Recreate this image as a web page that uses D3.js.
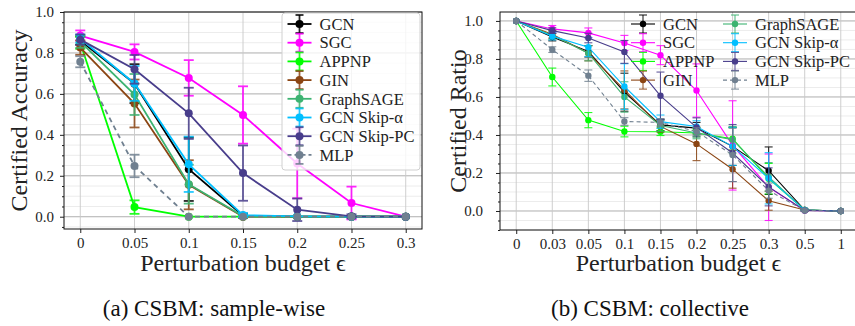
<!DOCTYPE html>
<html>
<head>
<meta charset="utf-8">
<script src="https://cdn.jsdelivr.net/npm/d3@7"></script>
<style>
  body { margin: 0; background: #fff; }
</style>
</head>
<body>
<svg width="855" height="326"></svg>
<script>
// series names and colours
const methods = ["GCN", "SGC", "APPNP", "GIN", "GraphSAGE", "GCN Skip-\u03b1", "GCN Skip-PC", "MLP"];
const colors = ["#000000", "#ff00ff", "#00ff00", "#8b4513", "#3cb371", "#00bfff", "#483d8b", "#708090"];

// (a) sample-wise
const budgetsA = [0, 0.05, 0.1, 0.15, 0.2, 0.25, 0.3];
const budgetLabelsA = ["0", "0.05", "0.1", "0.15", "0.2", "0.25", "0.3"];
const meanA = [
  [0.86, 0.65, 0.232, 0.005, 0, 0, 0],        // GCN
  [0.885, 0.805, 0.678, 0.497, 0.26, 0.067, 0], // SGC
  [0.85, 0.047, 0, 0, 0, 0, 0],              // APPNP
  [0.826, 0.553, 0.156, 0, 0, 0, 0],          // GIN
  [0.855, 0.597, 0.159, 0.003, 0, 0, 0],      // GraphSAGE
  [0.87, 0.651, 0.256, 0.008, 0.002, 0, 0],   // Skip-alpha
  [0.865, 0.72, 0.505, 0.213, 0.034, 0.002, 0], // Skip-PC
  [0.757, 0.248, 0, 0, 0, 0, 0]               // MLP
];
const errA = [
  [0.02, 0.095, 0.155, 0.01, 0, 0, 0],
  [0.025, 0.037, 0.087, 0.14, 0.17, 0.08, 0],
  [0.03, 0.033, 0, 0, 0, 0, 0],
  [0.035, 0.117, 0.12, 0, 0, 0, 0],
  [0.03, 0.1, 0.095, 0.005, 0, 0, 0],
  [0.02, 0.085, 0.135, 0.01, 0, 0, 0],
  [0.025, 0.07, 0.125, 0.135, 0.055, 0.01, 0],
  [0.027, 0.055, 0, 0, 0, 0, 0]
];

// (b) collective
const budgetLabelsB = ["0", "0.03", "0.05", "0.1", "0.15", "0.2", "0.25", "0.3", "0.5", "1"];
const meanB = [
  [1, 0.915, 0.84, 0.625, 0.453, 0.436, 0.34, 0.212, 0.005, 0],
  [1, 0.958, 0.937, 0.884, 0.82, 0.634, 0.345, 0.125, 0.003, 0],
  [1, 0.705, 0.478, 0.418, 0.417, 0.41, 0.38, 0.17, 0.005, 0],
  [1, 0.93, 0.83, 0.637, 0.445, 0.353, 0.22, 0.054, 0.005, 0],
  [1, 0.925, 0.83, 0.6, 0.45, 0.41, 0.375, 0.18, 0.005, 0],
  [1, 0.92, 0.862, 0.655, 0.47, 0.445, 0.34, 0.172, 0.005, 0],
  [1, 0.949, 0.91, 0.837, 0.606, 0.44, 0.305, 0.127, 0.003, 0],
  [1, 0.849, 0.712, 0.471, 0.466, 0.418, 0.295, 0.107, 0.003, 0]
];
const errB = [
  [0, 0.02, 0.03, 0.1, 0.03, 0.03, 0.1, 0.125, 0.005, 0],
  [0, 0.018, 0.026, 0.04, 0.05, 0.14, 0.235, 0.175, 0.005, 0],
  [0, 0.047, 0.04, 0.028, 0.02, 0.02, 0.06, 0.08, 0.003, 0],
  [0, 0.02, 0.04, 0.1, 0.03, 0.088, 0.1, 0.05, 0.003, 0],
  [0, 0.02, 0.04, 0.08, 0.03, 0.03, 0.07, 0.075, 0.003, 0],
  [0, 0.02, 0.05, 0.12, 0.035, 0.03, 0.1, 0.135, 0.003, 0],
  [0, 0.015, 0.025, 0.06, 0.125, 0.05, 0.15, 0.1, 0.003, 0],
  [0, 0.015, 0.03, 0.02, 0.02, 0.02, 0.14, 0.04, 0.003, 0]
];

const yTicks = [0, 0.2, 0.4, 0.6, 0.8, 1.0];

var svg = d3.select("svg");

function panel(opt) {
  var x = d3.scaleLinear().domain(opt.xDomain).range([opt.left, opt.right]);
  var y = d3.scaleLinear().domain(opt.yDomain).range([opt.bottom, opt.top]);
  var g = svg.append("g");

  // minor grid
  var minor = d3.range(-0.1, 1.06, 0.05).filter(v => v >= opt.yDomain[0] - 1e-9 && v <= opt.yDomain[1] + 1e-9);
  g.append("g").selectAll("line").data(minor).enter().append("line")
    .attr("x1", opt.left).attr("x2", opt.right)
    .attr("y1", d => y(d)).attr("y2", d => y(d))
    .attr("stroke", "#ececec").attr("stroke-width", 1);

  // major grid
  g.append("g").selectAll("line").data(yTicks).enter().append("line")
    .attr("x1", opt.left).attr("x2", opt.right)
    .attr("y1", d => y(d)).attr("y2", d => y(d))
    .attr("stroke", "#b0b0b0").attr("stroke-width", 0.9);
  g.append("g").selectAll("line").data(opt.xVals).enter().append("line")
    .attr("x1", d => x(d)).attr("x2", d => x(d))
    .attr("y1", opt.top).attr("y2", opt.bottom)
    .attr("stroke", "#c8c8c8").attr("stroke-width", 0.9);

  // series
  var line = d3.line().x(d => x(d[0])).y(d => y(d[1]));
  opt.means.forEach(function (row, i) {
    var pts = row.map((v, j) => [opt.xVals[j], v, opt.errs[i][j]]);
    var s = g.append("g");
    s.append("path").datum(pts)
      .attr("d", line).attr("fill", "none")
      .attr("stroke", colors[i]).attr("stroke-width", opt.lw)
      .attr("stroke-dasharray", i === 7 ? opt.dash : null);
    var eb = s.append("g").attr("opacity", 0.85)
      .selectAll("g").data(pts.filter(p => p[2] > 0)).enter().append("g");
    eb.append("line")
      .attr("x1", d => x(d[0])).attr("x2", d => x(d[0]))
      .attr("y1", d => y(d[1] - d[2])).attr("y2", d => y(d[1] + d[2]))
      .attr("stroke", colors[i]).attr("stroke-width", opt.lw);
    [-1, 1].forEach(function (sgn) {
      eb.append("line")
        .attr("x1", d => x(d[0]) - opt.cap).attr("x2", d => x(d[0]) + opt.cap)
        .attr("y1", d => y(d[1] + sgn * d[2])).attr("y2", d => y(d[1] + sgn * d[2]))
        .attr("stroke", colors[i]).attr("stroke-width", opt.lw);
    });
    s.append("g").selectAll("circle").data(pts).enter().append("circle")
      .attr("cx", d => x(d[0])).attr("cy", d => y(d[1]))
      .attr("r", opt.r).attr("fill", colors[i]);
  });

  // axes
  var xAxis = d3.axisBottom(x).tickValues(opt.xVals)
    .tickFormat((d, i) => opt.xLabels[i]).tickSize(4).tickPadding(4);
  var gx = g.append("g").attr("transform", "translate(0," + opt.bottom + ")").call(xAxis);
  var yAxis = d3.axisLeft(y).tickValues(yTicks).tickFormat(d3.format(".1f"))
    .tickSize(4).tickPadding(opt.yPad);
  var gy = g.append("g").attr("transform", "translate(" + opt.left + ",0)").call(yAxis);
  var yMinor = d3.axisLeft(y).tickValues(minor.filter(v => yTicks.every(t => Math.abs(t - v) > 1e-6)))
    .tickSize(2).tickFormat("");
  var gm = g.append("g").attr("transform", "translate(" + opt.left + ",0)").call(yMinor);
  [gx, gy, gm].forEach(function (a) {
    a.attr("font-family", null).attr("font-size", null);
    a.select(".domain").remove();
    a.selectAll("line").attr("stroke", "#222");
    a.selectAll("text").attr("font-size", 15).attr("fill", "#222");
  });

  // frame
  g.append("rect")
    .attr("x", opt.left).attr("y", opt.top)
    .attr("width", opt.right - opt.left).attr("height", opt.bottom - opt.top)
    .attr("fill", "none").attr("stroke", "#111").attr("stroke-width", 1);

  // labels
  g.append("text").attr("x", (opt.left + opt.right) / 2).attr("y", 271)
    .attr("text-anchor", "middle").attr("font-size", 24).text("Perturbation budget \u03f5");
  g.append("text")
    .attr("transform", "translate(" + opt.yLabelX + "," + (opt.top + opt.bottom) / 2 + ") rotate(-90)")
    .attr("text-anchor", "middle").attr("font-size", 24).text(opt.yLabel);
  g.append("text").attr("x", opt.capX).attr("y", 316)
    .attr("text-anchor", "middle").attr("font-size", 23).attr("fill", "#111").text(opt.caption);

  // legend
  var lg = g.append("g");
  if (opt.frame) {
    lg.append("rect").attr("x", opt.frame[0]).attr("y", opt.frame[1])
      .attr("width", opt.frame[2]).attr("height", opt.frame[3]).attr("rx", 3)
      .attr("fill", "#fff").attr("fill-opacity", 0.8).attr("stroke", "#d0d0d0");
  }
  var items = lg.selectAll("g").data(methods).enter().append("g")
    .attr("transform", (d, i) => {
      var c = Math.floor(i / opt.perCol), r = i % opt.perCol;
      return "translate(" + opt.legX[c] + "," + (24 + r * 18.7) + ")";
    });
  items.append("line").attr("x1", -12).attr("x2", 12)
    .attr("stroke", (d, i) => colors[i]).attr("stroke-width", opt.lw)
    .attr("stroke-dasharray", (d, i) => i === 7 ? "4,3" : null);
  items.append("line").attr("y1", -9).attr("y2", 9)
    .attr("stroke", (d, i) => colors[i]).attr("stroke-width", opt.lw).attr("opacity", 0.85);
  [-9, 9].forEach(function (cy) {
    items.append("line").attr("x1", -4).attr("x2", 4).attr("y1", cy).attr("y2", cy)
      .attr("stroke", (d, i) => colors[i]).attr("stroke-width", opt.lw).attr("opacity", 0.85);
  });
  items.append("circle").attr("r", opt.r).attr("fill", (d, i) => colors[i]);
  items.append("text").attr("x", 20).attr("dy", "0.35em").attr("font-size", 16.5).text(d => d);
}

panel({
  left: 64, right: 422, top: 12, bottom: 229,
  xDomain: [-0.015, 0.315], yDomain: [-0.06, 1.0],
  xVals: budgetsA, xLabels: budgetLabelsA,
  means: meanA, errs: errA, lw: 1.8, r: 4, cap: 5, dash: "5,4", yPad: 6,
  yLabel: "Certified Accuracy", yLabelX: 27, capX: 214, caption: "(a) CSBM: sample-wise",
  frame: [282, 13, 138, 157], perCol: 8, legX: [299.5]
});

panel({
  left: 500, right: 857, top: 12, bottom: 230,
  xDomain: [-0.45, 9.45], yDomain: [-0.1, 1.047],
  xVals: d3.range(budgetLabelsB.length), xLabels: budgetLabelsB,
  means: meanB, errs: errB, lw: 1.1, r: 3.2, cap: 4, dash: "4,3", yPad: 13,
  yLabel: "Certified Ratio", yLabelX: 466, capX: 650, caption: "(b) CSBM: collective",
  frame: null, perCol: 4, legX: [643, 735]
});

// serif text everywhere, like the LaTeX figure
svg.selectAll("text")
  .attr("font-family", "'Liberation Serif', 'DejaVu Serif', serif")
  .style("font-family", "'Liberation Serif', 'DejaVu Serif', serif");
svg.selectAll("text:not([fill])").attr("fill", "#222");
</script>
</body>
</html>
